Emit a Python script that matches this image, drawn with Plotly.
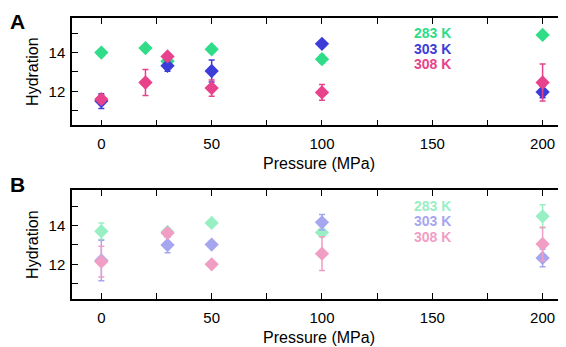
import plotly.graph_objects as go

# ---- data ----
pressure_283_A = [0, 20, 30, 50, 100, 200]
hyd_283_A = [14.0, 14.23, 13.55, 14.17, 13.66, 14.91]
err_283_A = [0.15, 0.1, 0.12, 0.1, 0.2, 0.1]

pressure_303_A = [0, 30, 50, 100, 200]
hyd_303_A = [11.5, 13.32, 13.05, 14.45, 11.97]
err_303_A = [0.38, 0.28, 0.57, 0.08, 0.3]

pressure_308_A = [0, 20, 30, 50, 100, 200]
hyd_308_A = [11.6, 12.46, 13.8, 12.17, 11.95, 12.46]
err_308_A = [0.2, 0.67, 0.15, 0.42, 0.4, 0.95]

pressure_B = [0, 30, 50, 100, 200]
hyd_283_B = [13.71, 13.67, 14.14, 13.65, 14.48]
err_283_B = [0.43, 0.15, 0.08, 0.12, 0.6]
hyd_303_B = [12.2, 13.0, 13.02, 14.17, 12.33]
err_303_B = [1.05, 0.4, 0.08, 0.4, 0.45]
hyd_308_B = [12.14, 13.62, 12.0, 12.55, 13.05]
err_308_B = [0.8, 0.2, 0.15, 0.87, 0.86]

labels = ["283 K", "303 K", "308 K"]
colors = ["#2fdc88", "#3c3cd8", "#e8428c"]
colors_light = ["#98efc4", "#a6a6f0", "#f19ec4"]

fig = go.Figure()

def add(x, y, e, col, xa, ya):
    fig.add_trace(go.Scatter(
        x=x, y=y, mode="markers", xaxis=xa, yaxis=ya, showlegend=False,
        marker=dict(symbol="diamond", size=11, color=col, line=dict(width=0)),
        error_y=dict(type="data", array=e, visible=True, color=col, thickness=1.5, width=3),
    ))

add(pressure_283_A, hyd_283_A, err_283_A, colors[0], "x", "y")
add(pressure_303_A, hyd_303_A, err_303_A, colors[1], "x", "y")
add(pressure_308_A, hyd_308_A, err_308_A, colors[2], "x", "y")
add(pressure_B, hyd_283_B, err_283_B, colors_light[0], "x2", "y2")
add(pressure_B, hyd_303_B, err_303_B, colors_light[1], "x2", "y2")
add(pressure_B, hyd_308_B, err_308_B, colors_light[2], "x2", "y2")

FAM = "Liberation Sans, Arial, sans-serif"
tickfont = dict(family=FAM, size=15, color="black")
titlefont = dict(family=FAM, size=16, color="black")

# page body has an 8px default margin; figure is sized to fit the window
W, H = 558, 339
L, T, B = 64.3, 10.3, 47.7
PW, PH = W - L, H - T - B

xcommon = dict(range=[-13.3, 210.6], domain=[0, 1.0], tick0=0, dtick=50, automargin=False,
               ticks="inside", ticklen=6, tickwidth=1.2, tickcolor="black", ticklabelstandoff=4,
               minor=dict(dtick=25, ticks="inside", ticklen=6, tickwidth=1.2, tickcolor="black"),
               showline=True, linecolor="black", linewidth=1.5, mirror="allticks",
               showgrid=False, zeroline=False, tickfont=tickfont,
               title=dict(text="Pressure (MPa)", font=titlefont, standoff=7))
ycommon = dict(range=[10.25, 15.78], tick0=0, dtick=2, automargin=False,
               ticks="inside", ticklen=6, tickwidth=1.2, tickcolor="black", ticklabelstandoff=2,
               minor=dict(dtick=1, ticks="inside", ticklen=6, tickwidth=1.2, tickcolor="black"),
               showline=True, linecolor="black", linewidth=1.5, mirror="allticks",
               showgrid=False, zeroline=False, tickfont=tickfont,
               title=dict(text="Hydration", font=titlefont, standoff=6))

fig.update_layout(
    width=W, height=H,
    margin=dict(l=L, r=0, t=T, b=B, autoexpand=False),
    plot_bgcolor="white", paper_bgcolor="white",
    xaxis=dict(**xcommon, anchor="y"),
    yaxis=dict(**ycommon, domain=[0.6178, 1.0], anchor="x"),
    xaxis2=dict(**xcommon, anchor="y2"),
    yaxis2=dict(**{**ycommon, "range": [10.21, 15.82]}, domain=[0.0, 0.3865], anchor="x2"),
)

ypos_A = [15.01, 14.19, 13.42]
ypos_B = [15.02, 14.22, 13.42]
for i, lab in enumerate(labels):
    fig.add_annotation(x=150, y=ypos_A[i], xref="x", yref="y", text="<b>%s</b>" % lab, showarrow=False,
                       font=dict(family=FAM, size=14, color=colors[i]))
    fig.add_annotation(x=150, y=ypos_B[i], xref="x2", yref="y2", text="<b>%s</b>" % lab, showarrow=False,
                       font=dict(family=FAM, size=14, color=colors_light[i]))

for letter, xpx, ypx in (("A", 10, 13.5), ("B", 10, 176.5)):
    fig.add_annotation(x=(xpx - L) / PW, y=(H - B - ypx) / PH, xref="paper", yref="paper",
                       text="<b>%s</b>" % letter, showarrow=False, xanchor="center", yanchor="middle",
                       font=dict(family=FAM, size=21, color="black"))

fig.write_html("out.html")
